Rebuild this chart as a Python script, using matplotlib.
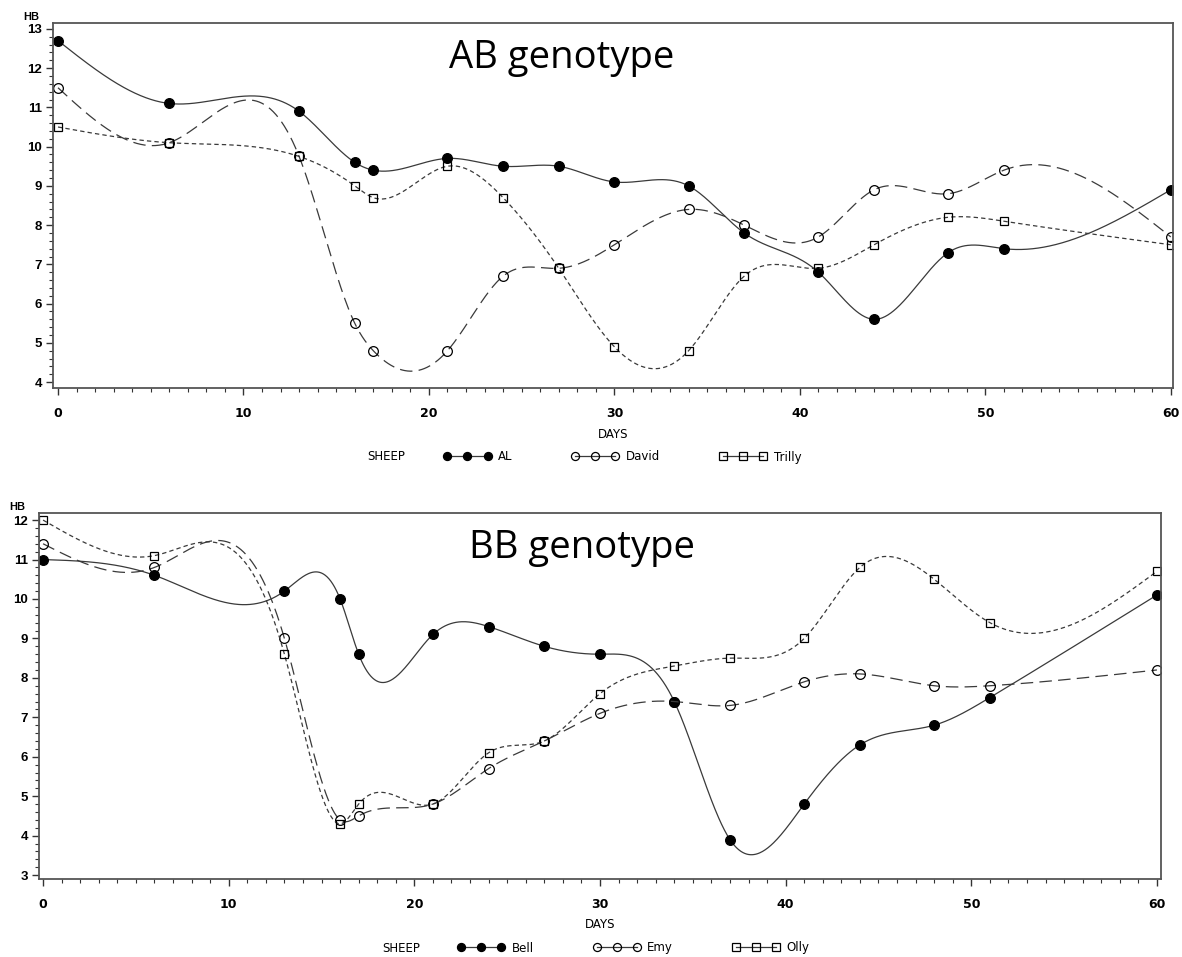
import numpy as np
import matplotlib
matplotlib.use("Agg")
import matplotlib.pyplot as plt
from matplotlib.lines import Line2D
from matplotlib.ticker import MultipleLocator

# ---------------- data ----------------
days = [0, 6, 13, 16, 17, 21, 24, 27, 30, 34, 37, 41, 44, 48, 51, 60]

# AB genotype
al    = [12.7, 11.1, 10.9, 9.6, 9.4, 9.7, 9.5, 9.5, 9.1, 9.0, 7.8, 6.8, 5.6, 7.3, 7.4, 8.9]
david = [11.5, 10.1, 9.75, 5.5, 4.8, 4.8, 6.7, 6.9, 7.5, 8.4, 8.0, 7.7, 8.9, 8.8, 9.4, 7.7]
trilly = [10.5, 10.1, 9.75, 9.0, 8.7, 9.5, 8.7, 6.9, 4.9, 4.8, 6.7, 6.9, 7.5, 8.2, 8.1, 7.5]

# BB genotype
bell = [11.0, 10.6, 10.2, 10.0, 8.6, 9.1, 9.3, 8.8, 8.6, 7.4, 3.9, 4.8, 6.3, 6.8, 7.5, 10.1]
emy  = [11.4, 10.8, 9.0, 4.4, 4.5, 4.8, 5.7, 6.4, 7.1, 7.4, 7.3, 7.9, 8.1, 7.8, 7.8, 8.2]
olly = [12.0, 11.1, 8.6, 4.3, 4.8, 4.8, 6.1, 6.4, 7.6, 8.3, 8.5, 9.0, 10.8, 10.5, 9.4, 10.7]

ab_names = ["AL", "David", "Trilly"]
bb_names = ["Bell", "Emy", "Olly"]
x_ticks = [0, 10, 20, 30, 40, 50, 60]


def natural_spline(x, y, xs):
    x = np.asarray(x, float)
    y = np.asarray(y, float)
    n = len(x)
    h = np.diff(x)
    A = np.zeros((n, n))
    r = np.zeros(n)
    A[0, 0] = 1.0
    A[-1, -1] = 1.0
    for i in range(1, n - 1):
        A[i, i - 1] = h[i - 1]
        A[i, i] = 2 * (h[i - 1] + h[i])
        A[i, i + 1] = h[i]
        r[i] = 6 * ((y[i + 1] - y[i]) / h[i] - (y[i] - y[i - 1]) / h[i - 1])
    M = np.linalg.solve(A, r)
    idx = np.clip(np.searchsorted(x, xs) - 1, 0, n - 2)
    x0, x1 = x[idx], x[idx + 1]
    hh = x1 - x0
    t0 = x1 - xs
    t1 = xs - x0
    return (M[idx] * t0 ** 3 / (6 * hh) + M[idx + 1] * t1 ** 3 / (6 * hh)
            + (y[idx] / hh - M[idx] * hh / 6) * t0
            + (y[idx + 1] / hh - M[idx + 1] * hh / 6) * t1)


LINE_COLOR = "#3a3a3a"
styles = [
    dict(ls="-", marker="o", mfc="black", dashes=None),
    dict(ls="--", marker="o", mfc="none", dashes=(10, 5)),
    dict(ls="--", marker="s", mfc="none", dashes=(3.5, 2.5)),
]

narrow = ["Liberation Sans Narrow", "DejaVu Sans"]
boldsans = ["Liberation Sans", "DejaVu Sans"]

fig = plt.figure(figsize=(11.82, 9.57), dpi=100)

W, H = 1182.0, 957.0
panels = [
    dict(rect=(53, 23, 1173, 388), ylim=(3.85, 13.15), xlim=(-0.27, 60.12),
         series=[al, david, trilly], names=ab_names, title="AB genotype",
         yticks=range(4, 14), title_x=0.354, sheep_x=0.281, leg_x=0.349),
    dict(rect=(39, 513, 1161, 879), ylim=(2.9, 12.18), xlim=(-0.22, 60.22),
         series=[bell, emy, olly], names=bb_names, title="BB genotype",
         yticks=range(3, 13), title_x=0.383, sheep_x=0.306, leg_x=0.373),
]

xs = np.linspace(0, 60, 1201)

for p in panels:
    l, t, r, b = p["rect"]
    ax = fig.add_axes([l / W, 1 - b / H, (r - l) / W, (b - t) / H])
    ax.set_xlim(*p["xlim"])
    ax.set_ylim(*p["ylim"])
    handles = []
    for vals, st, name in zip(p["series"], styles, p["names"]):
        ys = natural_spline(days, vals, xs)
        ln, = ax.plot(xs, ys, color=LINE_COLOR, lw=0.9, ls=st["ls"])
        if st["dashes"]:
            ln.set_dashes(st["dashes"])
        ax.plot(days, vals, ls="none", marker=st["marker"], ms=7 if st["marker"] == "o" else 6.2,
                mfc=st["mfc"], mec="black", mew=0.9)
        h = Line2D([], [], color=LINE_COLOR, lw=0.9, marker=st["marker"], ms=5.8,
                   mfc=st["mfc"], mec="black", mew=0.9)
        handles.append(h)

    for s in ax.spines.values():
        s.set_color("#555555")
        s.set_linewidth(1.3)

    ax.set_xticks(x_ticks)
    ax.set_yticks(list(p["yticks"]))
    ax.xaxis.set_minor_locator(MultipleLocator(1))
    ax.yaxis.set_minor_locator(MultipleLocator(0.2))
    ax.tick_params(axis="both", which="major", direction="out", length=5, width=1, color="#333333")
    ax.tick_params(axis="both", which="minor", direction="out", length=3, width=0.8, color="#333333")
    ax.tick_params(axis="y", pad=3)
    ax.tick_params(axis="x", pad=9)
    for lab in ax.get_yticklabels():
        lab.set_family(boldsans)
        lab.set_fontweight("bold")
        lab.set_fontsize(9.5)
    for lab in ax.get_xticklabels():
        lab.set_family(narrow)
        lab.set_fontweight("bold")
        lab.set_fontsize(9)

    ax.annotate("HB", xy=(0, 1), xycoords="axes fraction", xytext=(-22, 6),
                textcoords="offset pixels", ha="center", va="center",
                fontsize=8, fontweight="bold", family=boldsans)

    ax.set_xlabel("DAYS", family=narrow, fontsize=8.5)
    ax.xaxis.set_label_coords(0.5, -46.0 / (b - t))
    ax.xaxis.label.set_va("center")

    ax.text(p["title_x"], 0.877, p["title"], transform=ax.transAxes,
            family=["Open Sans", "DejaVu Sans"], fontsize=27.5, va="baseline", ha="left")

    ax.text(p["sheep_x"], -69.0 / (b - t), "SHEEP", transform=ax.transAxes,
            family=narrow, fontsize=8.5, va="center", ha="left")
    ax.legend(handles, p["names"], loc="center left",
              bbox_to_anchor=(p["leg_x"], -69.0 / (b - t)), ncol=3, frameon=False,
              numpoints=3, handlelength=4.0, handletextpad=0.6, columnspacing=5.0,
              borderpad=0, borderaxespad=0,
              prop=dict(family=narrow, size=8.5))

fig.savefig("out.png", dpi=100)
